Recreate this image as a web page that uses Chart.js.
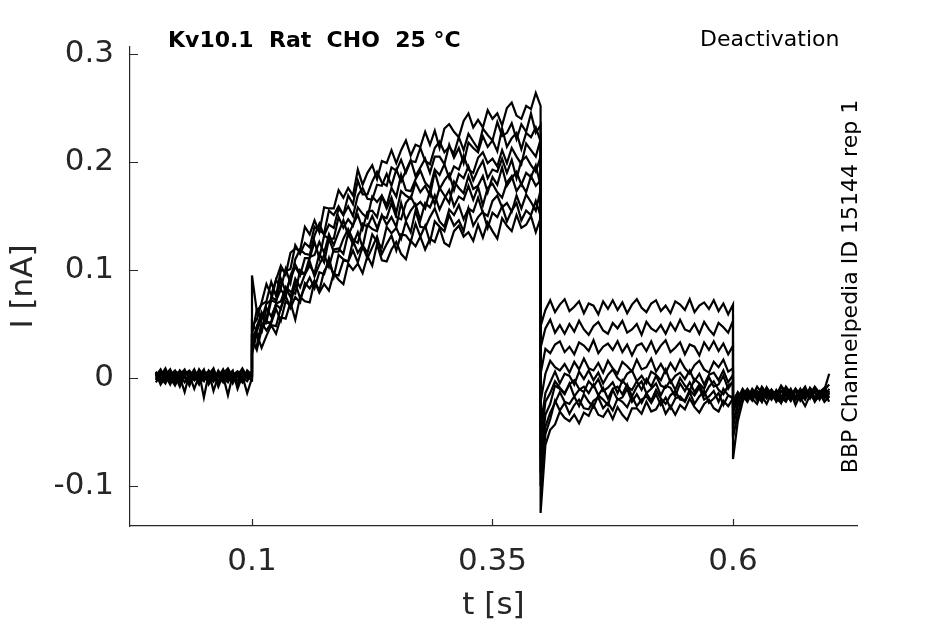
<!DOCTYPE html>
<html lang="en">
<head>
  <meta charset="UTF-8">
  <title>Kv10.1 Rat CHO 25 °C - Deactivation</title>
  <script src="https://cdn.jsdelivr.net/npm/chart.js"></script>
  <style>
    body {
      margin: 0;
      background: #ffffff;
    }
    #wrap {
      width: 945px;
      height: 624px;
    }
  </style>
</head>
<body>
  <div id="wrap"><canvas id="traces" width="945" height="624"></canvas></div>

  <script>
    // sampling of the recording (s) and the start of each protocol phase (s)
    const sampleInterval = 0.005;
    const phaseStart = [0, 0.1, 0.4, 0.6];

    // current in nA, one row per sweep
    // 0 - 0.1 s : holding
    const holdingPre = [
      [0.004,-0.003,0.006,0.001,-0.005,0.003,0.008,-0.002,0.002,-0.006,0.005,0.001,-0.003,0.007,0.000,-0.004,0.004,0.002,-0.001,0.006,0.003],
      [-0.002,0.005,-0.004,0.003,0.007,-0.001,0.002,-0.007,0.004,0.006,-0.002,0.003,0.009,-0.003,0.001,0.005,-0.005,0.004,0.007,0.000,0.002],
      [0.001,0.007,0.002,-0.006,0.004,-0.002,0.005,0.003,-0.010,0.002,0.006,-0.004,0.003,0.001,0.008,-0.002,0.003,-0.006,0.005,0.002,-0.001],
      [0.006,-0.001,0.003,0.008,-0.003,0.001,-0.013,0.004,0.006,0.000,-0.003,0.007,0.002,-0.005,0.004,0.009,0.001,-0.002,0.003,0.005,0.004],
      [-0.004,0.002,0.009,-0.002,0.003,0.006,0.000,-0.004,0.005,0.002,0.008,-0.006,0.001,0.004,-0.003,0.002,0.007,-0.010,0.002,0.004,0.001],
      [0.003,0.000,-0.005,0.005,0.002,-0.008,0.004,0.007,-0.001,0.003,0.000,0.005,-0.003,0.006,0.002,-0.016,0.003,0.006,0.000,-0.003,0.005],
      [0.000,0.006,0.002,-0.003,0.006,0.004,-0.004,0.001,0.008,-0.002,0.004,0.002,0.006,-0.008,0.003,0.005,-0.001,0.002,0.009,0.001,-0.002],
      [0.005,-0.006,0.001,0.004,-0.001,0.007,0.002,-0.003,0.003,0.005,-0.018,0.004,0.000,0.003,0.006,-0.002,0.004,0.001,-0.004,0.007,0.003],
      [-0.001,0.003,0.007,0.000,-0.007,0.002,0.006,0.003,-0.002,0.008,0.001,-0.003,0.005,0.002,-0.004,0.007,0.000,0.005,-0.003,0.002,0.006],
      [0.002,0.008,-0.002,0.006,0.001,-0.004,0.003,0.005,0.001,-0.005,0.004,0.006,-0.012,0.002,0.005,0.001,-0.003,0.006,0.002,-0.014,0.000]
    ];

    // 0.1 - 0.4 s : activating pulse
    const testPulse = [
      [0.048,0.054,0.070,0.087,0.077,0.091,0.104,0.096,0.116,0.120,0.118,0.140,0.133,0.146,0.135,0.158,0.157,0.157,0.174,0.167,0.176,0.169,0.193,0.179,0.190,0.197,0.184,0.201,0.199,0.211,0.199,0.211,0.220,0.206,0.216,0.214,0.228,0.216,0.229,0.213,0.231,0.235,0.228,0.223,0.238,0.245,0.232,0.239,0.232,0.248,0.240,0.245,0.234,0.250,0.255,0.243,0.240,0.252,0.249,0.264,0.252],
      [0.095,0.062,0.068,0.071,0.089,0.076,0.100,0.099,0.101,0.123,0.115,0.125,0.121,0.140,0.136,0.134,0.155,0.151,0.159,0.151,0.169,0.161,0.183,0.170,0.170,0.182,0.191,0.181,0.178,0.195,0.192,0.202,0.190,0.201,0.200,0.213,0.201,0.198,0.213,0.219,0.209,0.214,0.208,0.223,0.211,0.226,0.219,0.212,0.231,0.225,0.220,0.237,0.224,0.227,0.236,0.221,0.235,0.228,0.245,0.227,0.234],
      [0.040,0.063,0.054,0.069,0.072,0.091,0.083,0.101,0.088,0.110,0.119,0.115,0.114,0.132,0.143,0.132,0.142,0.139,0.157,0.151,0.159,0.150,0.169,0.176,0.166,0.165,0.179,0.178,0.189,0.178,0.193,0.182,0.192,0.202,0.187,0.195,0.203,0.190,0.205,0.205,0.198,0.216,0.204,0.213,0.199,0.218,0.213,0.209,0.224,0.214,0.220,0.210,0.231,0.214,0.222,0.227,0.212,0.227,0.223,0.232,0.219],
      [0.036,0.046,0.061,0.052,0.072,0.070,0.092,0.080,0.092,0.103,0.095,0.111,0.111,0.126,0.111,0.132,0.129,0.129,0.149,0.139,0.147,0.141,0.158,0.152,0.148,0.168,0.163,0.169,0.160,0.176,0.168,0.188,0.174,0.173,0.184,0.192,0.181,0.176,0.193,0.188,0.198,0.185,0.196,0.193,0.206,0.193,0.190,0.204,0.209,0.199,0.203,0.196,0.211,0.199,0.213,0.205,0.198,0.217,0.211,0.205,0.221],
      [0.051,0.043,0.056,0.055,0.075,0.072,0.082,0.075,0.095,0.105,0.096,0.097,0.112,0.114,0.126,0.116,0.133,0.123,0.135,0.146,0.132,0.142,0.151,0.138,0.154,0.155,0.149,0.168,0.157,0.167,0.153,0.173,0.169,0.166,0.181,0.172,0.178,0.169,0.191,0.175,0.183,0.189,0.174,0.189,0.185,0.196,0.183,0.193,0.201,0.185,0.193,0.191,0.203,0.190,0.202,0.185,0.201,0.205,0.197,0.191,0.205],
      [0.040,0.040,0.042,0.065,0.057,0.068,0.064,0.084,0.080,0.078,0.100,0.096,0.104,0.097,0.115,0.107,0.129,0.117,0.117,0.129,0.138,0.128,0.125,0.143,0.140,0.150,0.139,0.150,0.148,0.162,0.149,0.147,0.162,0.168,0.159,0.163,0.157,0.173,0.161,0.176,0.169,0.162,0.182,0.176,0.171,0.187,0.175,0.178,0.187,0.172,0.186,0.179,0.195,0.178,0.185,0.191,0.179,0.190,0.186,0.197,0.178],
      [0.026,0.048,0.058,0.051,0.052,0.069,0.071,0.084,0.075,0.092,0.084,0.096,0.108,0.094,0.105,0.114,0.103,0.119,0.120,0.115,0.134,0.124,0.135,0.121,0.142,0.138,0.136,0.151,0.142,0.149,0.140,0.162,0.146,0.155,0.161,0.146,0.162,0.158,0.169,0.156,0.166,0.174,0.159,0.168,0.165,0.178,0.165,0.177,0.160,0.176,0.180,0.172,0.167,0.181,0.187,0.173,0.180,0.172,0.187,0.178,0.183],
      [0.030,0.030,0.051,0.044,0.051,0.064,0.053,0.071,0.067,0.088,0.074,0.084,0.093,0.083,0.098,0.096,0.111,0.094,0.114,0.110,0.108,0.127,0.116,0.123,0.116,0.133,0.126,0.121,0.140,0.134,0.139,0.129,0.145,0.135,0.155,0.140,0.139,0.149,0.157,0.145,0.140,0.156,0.151,0.160,0.147,0.157,0.154,0.167,0.153,0.150,0.164,0.169,0.158,0.162,0.154,0.169,0.157,0.170,0.163,0.155,0.174],
      [0.036,0.026,0.045,0.053,0.049,0.048,0.065,0.076,0.065,0.075,0.070,0.088,0.083,0.090,0.081,0.099,0.106,0.096,0.095,0.109,0.108,0.118,0.107,0.122,0.111,0.121,0.131,0.115,0.124,0.132,0.118,0.133,0.132,0.126,0.143,0.131,0.141,0.126,0.145,0.140,0.136,0.151,0.141,0.146,0.136,0.157,0.141,0.149,0.154,0.139,0.153,0.149,0.159,0.145,0.155,0.162,0.146,0.155,0.151,0.164,0.150],
      [0.022,0.041,0.028,0.039,0.049,0.041,0.056,0.055,0.070,0.054,0.075,0.071,0.070,0.090,0.079,0.087,0.081,0.097,0.091,0.087,0.106,0.100,0.106,0.097,0.113,0.104,0.124,0.109,0.108,0.119,0.126,0.115,0.110,0.127,0.122,0.131,0.119,0.129,0.126,0.139,0.125,0.122,0.136,0.141,0.131,0.135,0.127,0.142,0.130,0.144,0.136,0.129,0.148,0.141,0.136,0.151,0.139,0.142,0.150,0.135,0.148]
    ];

    // 0.4 - 0.6 s : deactivating (tail) steps
    const tailPulse = [
      [0.004,0.027,0.023,0.031,0.034,0.024,0.029,0.022,0.033,0.030,0.025,0.035,0.023,0.029,0.032,0.026,0.034,0.024,0.031,0.021,0.030,0.032,0.025,0.034,0.023,0.030,0.035,0.024,0.028,0.033,0.022,0.031,0.029,0.021,0.033,0.026,0.034,0.025,0.032,0.022,0.030],
      [0.048,0.063,0.072,0.061,0.068,0.073,0.062,0.066,0.071,0.060,0.069,0.067,0.059,0.071,0.064,0.072,0.063,0.070,0.060,0.068,0.073,0.065,0.061,0.069,0.072,0.062,0.067,0.060,0.071,0.068,0.063,0.073,0.061,0.067,0.070,0.064,0.072,0.062,0.069,0.059,0.068],
      [-0.075,-0.034,-0.024,-0.007,-0.010,-0.015,-0.005,-0.017,-0.011,-0.008,-0.014,-0.006,-0.016,-0.009,-0.019,-0.010,-0.008,-0.015,-0.006,-0.017,-0.008,-0.003,-0.014,-0.010,-0.005,-0.016,-0.007,-0.009,-0.017,-0.005,-0.012,-0.004,-0.013,-0.006,-0.016,-0.008,-0.003,-0.011,-0.015,-0.007,-0.004],
      [0.028,0.046,0.054,0.042,0.049,0.041,0.050,0.043,0.053,0.045,0.040,0.048,0.052,0.044,0.041,0.051,0.046,0.053,0.042,0.045,0.050,0.040,0.052,0.046,0.043,0.049,0.041,0.051,0.044,0.054,0.045,0.043,0.050,0.041,0.052,0.045,0.040,0.051,0.047,0.042,0.053],
      [-0.100,-0.052,-0.038,-0.021,-0.030,-0.023,-0.033,-0.025,-0.020,-0.028,-0.029,-0.021,-0.018,-0.028,-0.023,-0.030,-0.019,-0.022,-0.027,-0.017,-0.026,-0.020,-0.017,-0.023,-0.015,-0.025,-0.018,-0.028,-0.019,-0.017,-0.022,-0.013,-0.024,-0.017,-0.012,-0.023,-0.019,-0.014,-0.025,-0.016,-0.018],
      [-0.022,0.004,0.016,0.010,0.007,0.013,0.005,0.015,0.008,0.018,0.009,0.007,0.014,0.005,0.016,0.009,0.004,0.015,0.011,0.006,0.017,0.008,0.010,0.018,0.006,0.013,0.005,0.014,0.007,0.017,0.009,0.004,0.012,0.016,0.008,0.005,0.015,0.010,0.017,0.006,0.009],
      [-0.060,-0.022,-0.014,-0.003,-0.009,-0.014,-0.006,-0.002,-0.010,-0.013,-0.003,-0.008,-0.001,-0.012,-0.009,-0.004,-0.014,-0.002,-0.008,-0.011,-0.003,-0.011,-0.001,-0.008,0.002,-0.007,-0.009,-0.002,-0.011,0.000,-0.007,-0.012,-0.001,-0.005,-0.010,0.001,-0.008,-0.006,0.002,-0.010,-0.003],
      [-0.125,-0.062,-0.048,-0.043,-0.031,-0.037,-0.040,-0.034,-0.042,-0.032,-0.035,-0.025,-0.034,-0.036,-0.029,-0.038,-0.027,-0.034,-0.039,-0.028,-0.028,-0.033,-0.022,-0.031,-0.029,-0.021,-0.033,-0.026,-0.034,-0.025,-0.029,-0.019,-0.027,-0.032,-0.024,-0.020,-0.028,-0.031,-0.021,-0.026,-0.019],
      [-0.045,-0.014,-0.004,0.006,-0.005,0.004,0.002,-0.006,0.006,-0.001,0.007,-0.002,0.005,-0.005,0.003,0.008,0.000,-0.004,0.004,0.007,-0.003,0.002,-0.005,0.006,0.003,-0.002,0.008,-0.004,0.002,0.005,-0.001,0.007,-0.003,0.004,-0.006,0.003,0.005,-0.002,0.007,-0.004,0.003],
      [-0.088,-0.045,-0.032,-0.023,-0.013,-0.022,-0.024,-0.017,-0.026,-0.015,-0.022,-0.027,-0.016,-0.020,-0.025,-0.011,-0.020,-0.018,-0.010,-0.022,-0.015,-0.023,-0.014,-0.021,-0.011,-0.019,-0.024,-0.016,-0.012,-0.020,-0.021,-0.011,-0.016,-0.009,-0.020,-0.017,-0.012,-0.022,-0.010,-0.016,-0.019]
    ];

    // 0.6 - 0.7 s : back to holding
    const holdingPost = [
      [-0.045,-0.026,-0.012,-0.019,-0.010,-0.016,-0.021,-0.009,-0.015,-0.012,-0.019,-0.008,-0.014,-0.020,-0.011,-0.016,-0.010,-0.018,-0.013,-0.009,-0.015],
      [-0.075,-0.040,-0.022,-0.011,-0.018,-0.013,-0.020,-0.009,-0.016,-0.021,-0.012,-0.017,-0.010,-0.019,-0.014,-0.008,-0.018,-0.012,-0.020,-0.011,-0.016],
      [-0.025,-0.018,-0.013,-0.021,-0.011,-0.017,-0.022,-0.012,-0.019,-0.014,-0.023,-0.010,-0.016,-0.020,-0.013,-0.018,-0.011,-0.022,-0.015,-0.019,-0.012],
      [-0.055,-0.033,-0.016,-0.010,-0.017,-0.008,-0.014,-0.019,-0.011,-0.016,-0.007,-0.013,-0.018,-0.010,-0.015,-0.020,-0.009,-0.014,-0.017,-0.011,-0.006],
      [-0.020,-0.014,-0.021,-0.012,-0.019,-0.024,-0.013,-0.018,-0.011,-0.022,-0.016,-0.020,-0.013,-0.025,-0.015,-0.019,-0.012,-0.021,-0.017,-0.014,-0.022],
      [-0.040,-0.024,-0.011,-0.017,-0.013,-0.020,-0.010,-0.016,-0.012,-0.019,-0.008,-0.015,-0.021,-0.011,-0.017,-0.013,-0.019,-0.009,-0.016,-0.012,-0.018],
      [-0.028,-0.016,-0.020,-0.011,-0.017,-0.014,-0.022,-0.009,-0.018,-0.013,-0.020,-0.012,-0.016,-0.010,-0.021,-0.015,-0.011,-0.019,-0.013,-0.018,-0.010],
      [-0.020,-0.025,-0.016,-0.022,-0.013,-0.020,-0.017,-0.024,-0.014,-0.019,-0.023,-0.015,-0.021,-0.012,-0.018,-0.026,-0.016,-0.020,-0.014,-0.022,-0.017],
      [-0.032,-0.019,-0.010,-0.016,-0.012,-0.018,-0.008,-0.014,-0.011,-0.017,-0.013,-0.009,-0.016,-0.012,-0.019,-0.010,-0.015,-0.008,-0.014,-0.011,0.004],
      [-0.022,-0.013,-0.019,-0.015,-0.021,-0.012,-0.017,-0.014,-0.020,-0.011,-0.018,-0.022,-0.013,-0.017,-0.010,-0.019,-0.014,-0.021,-0.012,-0.016,-0.013]
    ];

    const xTicks = [0.1, 0.35, 0.6];
    const yTicks = [-0.1, 0, 0.1, 0.2, 0.3];

    const titleText = 'Kv10.1  Rat  CHO  25 °C';
    const protocolText = 'Deactivation';
    const sourceText = 'BBP Channelpedia ID 15144 rep 1';

    const axisColor = '#262626';
    Chart.defaults.font.family = '"DejaVu Sans", sans-serif';

    // glue the four phases of every sweep into one x/y trace
    const phases = [holdingPre, testPulse, tailPulse, holdingPost];
    const datasets = holdingPre.map((_, k) => {
      const pts = [];
      phases.forEach((phase, p) => {
        phase[k].forEach((v, i) => {
          pts.push({ x: +(phaseStart[p] + i * sampleInterval).toFixed(4), y: v });
        });
      });
      return {
        data: pts,
        borderColor: '#000000',
        borderWidth: 2.2,
        pointRadius: 0,
        tension: 0,
        fill: false
      };
    });

    // MATLAB look: ticks pointing inward plus the figure texts
    const figureDecor = {
      id: 'figureDecor',
      afterDraw(chart) {
        const { ctx, chartArea: a, scales: { x, y } } = chart;
        ctx.save();
        ctx.strokeStyle = axisColor;
        ctx.lineWidth = 1.2;
        ctx.beginPath();
        xTicks.forEach(v => {
          const px = Math.round(x.getPixelForValue(v)) + 0.5;
          ctx.moveTo(px, a.bottom);
          ctx.lineTo(px, a.bottom - 7);
        });
        yTicks.forEach(v => {
          const py = Math.round(y.getPixelForValue(v)) + 0.5;
          ctx.moveTo(a.left, py);
          ctx.lineTo(a.left + 8, py);
        });
        ctx.stroke();

        ctx.fillStyle = '#000000';
        ctx.textBaseline = 'alphabetic';
        ctx.textAlign = 'left';
        ctx.font = 'bold 22px "DejaVu Sans"';
        ctx.fillText(titleText, 168, 47);
        ctx.font = '22px "DejaVu Sans"';
        ctx.fillText(protocolText, 700, 46);

        ctx.translate(857, (a.top + a.bottom) / 2);
        ctx.rotate(-Math.PI / 2);
        ctx.textAlign = 'center';
        ctx.fillText(sourceText, 0, 0);
        ctx.restore();
      }
    };

    new Chart(document.getElementById('traces'), {
      type: 'line',
      data: { datasets: datasets },
      options: {
        responsive: false,
        animation: false,
        parsing: false,
        layout: { padding: { top: 47, right: 88, bottom: 0, left: 0 } },
        plugins: {
          legend: { display: false },
          tooltip: { enabled: false }
        },
        scales: {
          x: {
            type: 'linear',
            min: -0.0268,
            max: 0.7289,
            grid: { display: false, drawTicks: false },
            border: { display: true, color: axisColor, width: 1.2 },
            afterBuildTicks: s => { s.ticks = xTicks.map(v => ({ value: v })); },
            afterFit: s => { s.height = 98; },
            ticks: {
              color: axisColor,
              font: { size: 31 },
              padding: 17,
              autoSkip: false,
              maxRotation: 0,
              callback: v => String(v)
            },
            title: {
              display: true,
              text: 't [s]',
              color: axisColor,
              font: { size: 31, lineHeight: 1 },
              padding: { top: 0, bottom: 3 }
            }
          },
          y: {
            type: 'linear',
            min: -0.137,
            max: 0.3065,
            grid: { display: false, drawTicks: false },
            border: { display: true, color: axisColor, width: 1.2 },
            afterBuildTicks: s => { s.ticks = yTicks.map(v => ({ value: v })); },
            afterFit: s => { s.width = 130; },
            ticks: {
              color: axisColor,
              font: { size: 31 },
              padding: 16,
              autoSkip: false,
              callback: v => String(v)
            },
            title: {
              display: true,
              text: 'I [nA]',
              color: axisColor,
              font: { size: 31, lineHeight: 1 },
              padding: { top: 8, bottom: 0 }
            }
          }
        }
      },
      plugins: [figureDecor]
    });
  </script>
</body>
</html>
